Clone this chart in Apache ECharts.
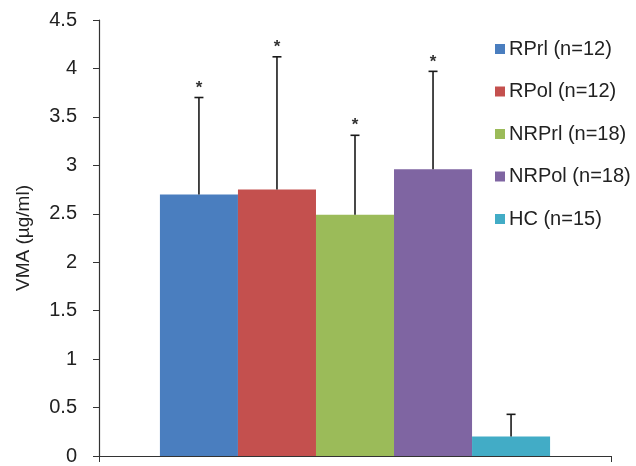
<!DOCTYPE html>
<html><head><meta charset="utf-8">
<script src="https://cdn.jsdelivr.net/npm/echarts@6/dist/echarts.min.js"></script>
<style>html,body{margin:0;padding:0;background:#fff}#c{width:636px;height:466px}</style>
</head><body><div id="c"></div>
<script>
var groups = ['RPrl (n=12)', 'RPol (n=12)', 'NRPrl (n=18)', 'NRPol (n=18)', 'HC (n=15)'];
var means = [2.70, 2.75, 2.49, 2.96, 0.20];
var upperErr = [3.70, 4.12, 3.31, 3.97, 0.43];
var marks = ['*', '*', '*', '*', ''];
var colors = ['#4A7EBF', '#C4504E', '#9BBB59', '#7F65A2', '#42ACC6'];
var yTicks = [0, 0.5, 1, 1.5, 2, 2.5, 3, 3.5, 4, 4.5];

var catGap = 0.238;
var series = groups.map(function (g, i) {
  return {
    name: g, type: 'bar', data: [means[i]],
    itemStyle: { color: colors[i] },
    barGap: '0%', barCategoryGap: (catGap * 100) + '%',
    silent: true
  };
});
series.push({
  type: 'custom', silent: true, z: 5,
  data: groups.map(function (g, i) { return [0, means[i], upperErr[i], i]; }),
  renderItem: function (params, api) {
    var i = api.value(3);
    var base = api.coord([0, api.value(1)]);
    var top = api.coord([0, api.value(2)]);
    var band = api.size([1, 0])[0];
    var groupW = band * (1 - catGap);
    var barW = groupW / groups.length;
    var x = base[0] - groupW / 2 + (i + 0.5) * barW;
    var capW = 9;
    var lineStyle = { stroke: '#1a1a1a', lineWidth: 1.6 };
    var children = [
      { type: 'line', shape: { x1: x, y1: base[1], x2: x, y2: top[1] }, style: lineStyle },
      { type: 'line', shape: { x1: x - capW / 2, y1: top[1], x2: x + capW / 2, y2: top[1] }, style: lineStyle }
    ];
    if (marks[i]) {
      children.push({ type: 'text', style: { text: marks[i], x: x, y: top[1] - 1, align: 'center', verticalAlign: 'bottom', fontSize: 17, fontWeight: 'bold', fontFamily: 'Liberation Sans', fill: '#333' } });
    }
    return { type: 'group', children: children };
  }
});

var chart = echarts.init(document.getElementById('c'));
chart.setOption({
  animation: false,
  textStyle: { fontFamily: 'Liberation Sans' },
  grid: { left: 99, right: 25, top: 20, bottom: 8, containLabel: false },
  legend: {
    orient: 'vertical', left: 490, top: 34,
    itemWidth: 10, itemHeight: 10, itemGap: 22.5,
    icon: 'rect',
    data: groups,
    textStyle: { fontSize: 20, color: '#222', lineHeight: 20, padding: [0, 0, 0, -1] },
    selectedMode: false
  },
  xAxis: {
    type: 'category', data: [''],
    axisLine: { lineStyle: { color: '#333', width: 1.2 } },
    axisTick: { show: true, length: 6, lineStyle: { color: '#333' } },
    axisLabel: { show: false }
  },
  yAxis: {
    type: 'value', min: 0, max: 4.5, interval: 0.5,
    name: 'VMA (µg/ml)', nameLocation: 'middle', nameGap: 66, nameRotate: 90,
    nameTextStyle: { fontSize: 19, color: '#222' },
    axisLine: { show: true, lineStyle: { color: '#333', width: 1.2 } },
    axisTick: { show: true, length: 6, lineStyle: { color: '#333' } },
    splitLine: { show: false },
    axisLabel: { fontSize: 20, color: '#222', margin: 22,
      formatter: function (v) { var k = yTicks.indexOf(v); return k >= 0 ? String(yTicks[k]) : ''; } }
  },
  series: series
});
</script></body></html>
